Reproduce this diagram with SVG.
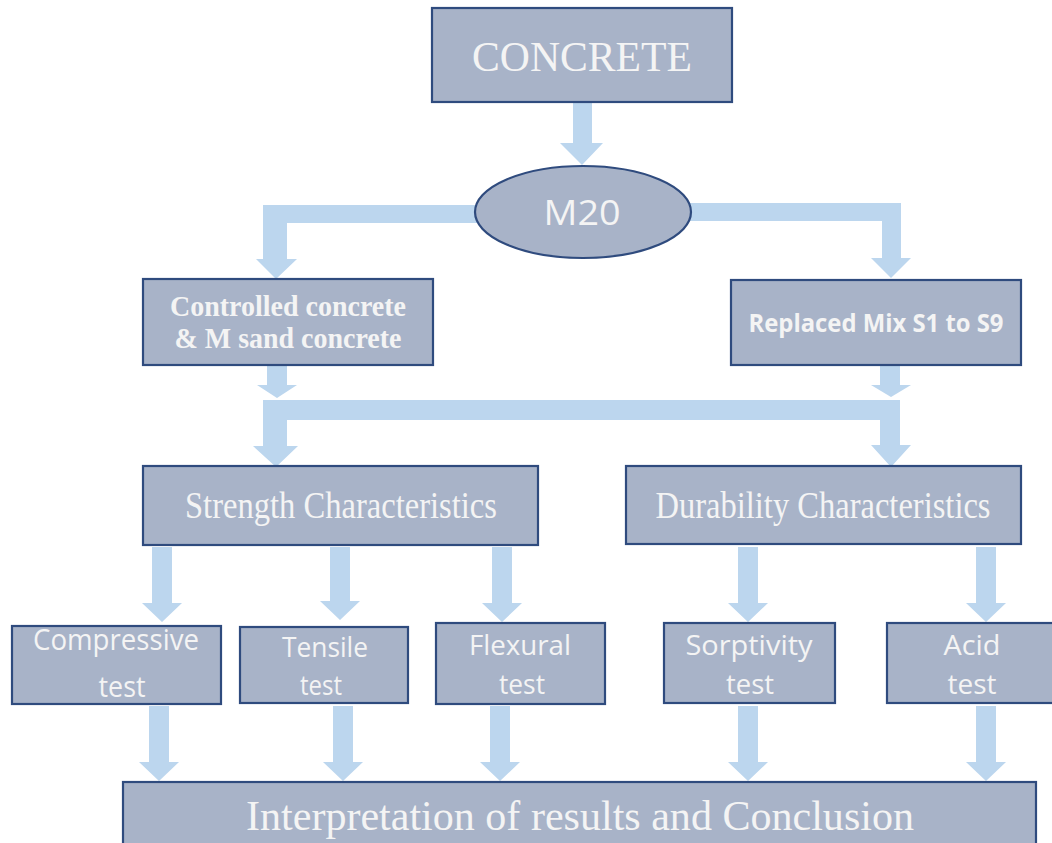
<svg xmlns="http://www.w3.org/2000/svg" width="1052" height="843" viewBox="0 0 1052 843">
<style>
.box{fill:#A8B3C8;stroke:#2F4B7E;stroke-width:2.2}
.arr{fill:#BCD6EE}
.serif{font-family:"Liberation Serif","Times New Roman",serif;fill:#F4F4F4}
.sans{font-family:"Open Sans","Noto Sans",sans-serif;fill:#F4F4F4}
</style>
<rect width="1052" height="843" fill="#FFFFFF"/>
<g id="connectors">
<polygon class="arr" points="573,102 592,102 592,143 603,143 582,165 560,143 573,143"/>
<polygon class="arr" points="583,205 263,205 263,259 256,259 276,279 297,259 287,259 287,223 583,223"/>
<polygon class="arr" points="583,203 901,203 901,258 911,258 891,278 871,258 882,258 882,221 583,221"/>
<polygon class="arr" points="267,365 287,365 287,385 297,385 277,398 257,385 267,385"/>
<polygon class="arr" points="880,365 900,365 900,385 911,385 891,397 871,385 880,385"/>
<polygon class="arr" points="263,400 900,400 900,445 911,445 891,467 871,445 880,445 880,420 287,420 287,446 298,446 276,467 253,446 263,446"/>
<polygon class="arr" points="152,547 172,547 172,603 182,603 162,622 142,603 152,603"/>
<polygon class="arr" points="330,547 350,547 350,601 360,601 340,620 320,601 330,601"/>
<polygon class="arr" points="492,547 512,547 512,603 522,603 502,622 482,603 492,603"/>
<polygon class="arr" points="738,547 758,547 758,603 768,603 748,622 728,603 738,603"/>
<polygon class="arr" points="976,547 996,547 996,603 1006,603 986,622 966,603 976,603"/>
<polygon class="arr" points="149,706 169,706 169,762 179,762 159,781 139,762 149,762"/>
<polygon class="arr" points="333,706 353,706 353,762 363,762 343,781 323,762 333,762"/>
<polygon class="arr" points="490,706 510,706 510,762 520,762 500,781 480,762 490,762"/>
<polygon class="arr" points="738,706 758,706 758,762 768,762 748,781 728,762 738,762"/>
<polygon class="arr" points="976,706 996,706 996,762 1006,762 986,781 966,762 976,762"/>
</g>
<g id="node-concrete">
<rect class="box" x="432" y="8" width="300" height="94"/>
<text class="serif" x="582" y="71" font-size="42" text-anchor="middle" textLength="220" lengthAdjust="spacingAndGlyphs">CONCRETE</text>
</g>
<g id="node-m20">
<ellipse class="box" cx="583" cy="212" rx="108" ry="46"/>
<text class="sans" x="582" y="225" font-size="35" text-anchor="middle" textLength="77" lengthAdjust="spacingAndGlyphs">M20</text>
</g>
<g id="node-controlled">
<rect class="box" x="143" y="279" width="290" height="86"/>
<text class="serif" x="288" y="316" font-size="29" font-weight="bold" text-anchor="middle" textLength="236" lengthAdjust="spacingAndGlyphs">Controlled concrete</text>
<text class="serif" x="288" y="348" font-size="29" font-weight="bold" text-anchor="middle" textLength="227" lengthAdjust="spacingAndGlyphs">&amp; M sand concrete</text>
</g>
<g id="node-replaced">
<rect class="box" x="731" y="280" width="290" height="85"/>
<text class="sans" x="876" y="332" font-size="25" font-weight="bold" text-anchor="middle" textLength="255" lengthAdjust="spacingAndGlyphs">Replaced Mix S1 to S9</text>
</g>
<g id="node-strength">
<rect class="box" x="143" y="466" width="395" height="79"/>
<text class="serif" x="341" y="518" font-size="37" text-anchor="middle" textLength="312" lengthAdjust="spacingAndGlyphs">Strength Characteristics</text>
</g>
<g id="node-durability">
<rect class="box" x="626" y="466" width="395" height="78"/>
<text class="serif" x="823" y="518" font-size="37" text-anchor="middle" textLength="335" lengthAdjust="spacingAndGlyphs">Durability Characteristics</text>
</g>
<g id="node-compressive">
<rect class="box" x="12" y="626" width="209" height="78"/>
<text class="sans" x="116" y="650" font-size="29" text-anchor="middle" textLength="166" lengthAdjust="spacingAndGlyphs">Compressive</text>
<text class="sans" x="122" y="697" font-size="29" text-anchor="middle" textLength="47" lengthAdjust="spacingAndGlyphs">test</text>
</g>
<g id="node-tensile">
<rect class="box" x="240" y="627" width="168" height="76"/>
<text class="sans" x="325" y="657" font-size="28" text-anchor="middle" textLength="86" lengthAdjust="spacingAndGlyphs">Tensile</text>
<text class="sans" x="321" y="695" font-size="28" text-anchor="middle" textLength="42" lengthAdjust="spacingAndGlyphs">test</text>
</g>
<g id="node-flexural">
<rect class="box" x="436" y="623" width="169" height="81"/>
<text class="sans" x="520" y="655" font-size="28" text-anchor="middle" textLength="102" lengthAdjust="spacingAndGlyphs">Flexural</text>
<text class="sans" x="522" y="694" font-size="28" text-anchor="middle" textLength="46" lengthAdjust="spacingAndGlyphs">test</text>
</g>
<g id="node-sorptivity">
<rect class="box" x="664" y="623" width="171" height="80"/>
<text class="sans" x="749" y="655" font-size="28" text-anchor="middle" textLength="127" lengthAdjust="spacingAndGlyphs">Sorptivity</text>
<text class="sans" x="750" y="694" font-size="28" text-anchor="middle" textLength="48" lengthAdjust="spacingAndGlyphs">test</text>
</g>
<g id="node-acid">
<rect class="box" x="887" y="623" width="175" height="80"/>
<text class="sans" x="972" y="655" font-size="28" text-anchor="middle" textLength="57" lengthAdjust="spacingAndGlyphs">Acid</text>
<text class="sans" x="972" y="694" font-size="28" text-anchor="middle" textLength="49" lengthAdjust="spacingAndGlyphs">test</text>
</g>
<g id="node-interpretation">
<rect class="box" x="123" y="782" width="913" height="80"/>
<text class="serif" x="580" y="830" font-size="43" text-anchor="middle" textLength="668" lengthAdjust="spacingAndGlyphs">Interpretation of results and Conclusion</text>
</g>
</svg>
